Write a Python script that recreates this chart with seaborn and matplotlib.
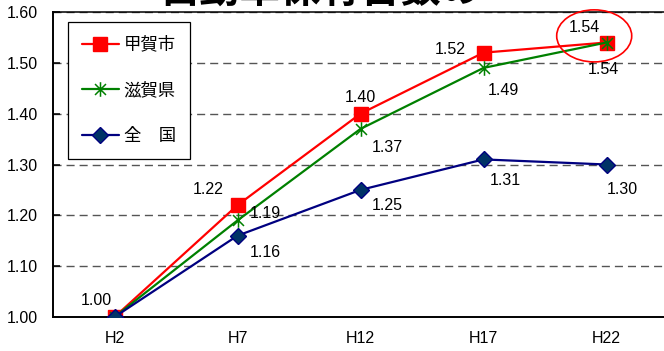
import matplotlib
matplotlib.use("Agg")
import matplotlib.pyplot as plt
from matplotlib.path import Path
from matplotlib.patches import Ellipse
import numpy as np
import seaborn as sns

# ---- data -------------------------------------------------------------
years = ["H2", "H7", "H12", "H17", "H22"]
koka = [1.00, 1.22, 1.40, 1.52, 1.54]      # 甲賀市
shiga = [1.00, 1.19, 1.37, 1.49, 1.54]     # 滋賀県
zenkoku = [1.00, 1.16, 1.25, 1.31, 1.30]   # 全国
series_names = ["甲賀市", "滋賀県", "全　国"]
yticks = [1.00, 1.10, 1.20, 1.30, 1.40, 1.50, 1.60]
title_text = "自動車保有台数の"

# ---- style --------------------------------------------------------------
sns.set_style("white")
plt.rcParams["font.family"] = ["Liberation Sans", "Noto Sans CJK JP", "DejaVu Sans"]
plt.rcParams["text.color"] = "black"
plt.rcParams["axes.labelcolor"] = "black"
plt.rcParams["xtick.color"] = "black"
plt.rcParams["ytick.color"] = "black"

W, H = 664, 351
fig = plt.figure(figsize=(W / 100, H / 100), dpi=100)
# plot area: left spine at x=53px, top 12px, bottom 317px; right edge runs off the canvas
ax = fig.add_axes([53 / W, (H - 317) / H, (668 - 53) / W, (317 - 12) / H])

xpos = np.arange(len(years))

# Excel-style asterisk: an X plus a vertical bar
star = Path(
    [(-0.75, -0.75), (0.75, 0.75), (-0.75, 0.75), (0.75, -0.75), (0, -1), (0, 1)],
    [Path.MOVETO, Path.LINETO, Path.MOVETO, Path.LINETO, Path.MOVETO, Path.LINETO],
)

RED, GREEN, NAVY, NAVY_FILL = "#FF0000", "#008000", "#000080", "#003366"

sns.lineplot(x=xpos, y=koka, ax=ax, color=RED, linewidth=1.6, marker="s",
             markersize=10, markerfacecolor=RED, markeredgecolor=RED,
             markeredgewidth=1, label=series_names[0], zorder=3)
sns.lineplot(x=xpos, y=shiga, ax=ax, color=GREEN, linewidth=1.6, marker=star,
             markersize=10.5, markerfacecolor="none", markeredgecolor=GREEN,
             markeredgewidth=1.1, label=series_names[1], zorder=4)
sns.lineplot(x=xpos, y=zenkoku, ax=ax, color=NAVY, linewidth=1.6, marker="D",
             markersize=8.5, markerfacecolor=NAVY_FILL, markeredgecolor=NAVY,
             markeredgewidth=1, label=series_names[2], zorder=5)

# ---- axes ---------------------------------------------------------------
ax.set_xlim(-0.5, len(years) - 0.5)
ax.set_ylim(yticks[0], yticks[-1])
ax.set_yticks(yticks)
ax.set_yticklabels([f"{v:.2f}" for v in yticks], fontsize=11.5)
ax.set_xticks(xpos)
ax.set_xticklabels(years, fontsize=11.5)
ax.set_xticks(xpos[:-1] + 0.5, minor=True)
ax.tick_params(axis="x", which="major", length=0, pad=10)
ax.tick_params(axis="x", which="minor", direction="in", length=5, width=1.1)
ax.tick_params(axis="y", which="major", direction="in", length=5, width=1.1,
               pad=11, left=True)
ax.set_xlabel("")
ax.set_ylabel("")

for side in ["left", "bottom", "top", "right"]:
    ax.spines[side].set_visible(True)
    ax.spines[side].set_color("black")
    ax.spines[side].set_linewidth(1.4)
ax.spines["top"].set_linewidth(1.1)

ax.yaxis.grid(True, color="#555555", linewidth=1.0, linestyle=(0, (5.8, 3.6)))
ax.xaxis.grid(False)
ax.set_axisbelow(True)

# ---- value labels -------------------------------------------------------
label_font = dict(fontsize=11.5, family=["Liberation Sans", "DejaVu Sans"],
                  ha="center", va="baseline", color="black")
# (dx, dy) offsets in pixels from each point to the centre of its label
koka_off = [(-18, 18), (-29, 17), (0, 18), (-33, 5), (-22, 17)]
shiga_off = [None, (28, 8), (27, -17), (20, -21), (-3, -25)]
zen_off = [None, (28, -15), (27, -14), (22, -20), (16, -23)]
for vals, offs in [(koka, koka_off), (shiga, shiga_off), (zenkoku, zen_off)]:
    for i, (v, off) in enumerate(zip(vals, offs)):
        if off is None:
            continue
        ax.annotate(f"{v:.2f}", xy=(xpos[i], v), xytext=(off[0], off[1] - 6),
                    textcoords="offset pixels", zorder=6, **label_font)

# highlight ring around the latest 甲賀市 value
ax.add_patch(Ellipse((3.9, 1.553), 0.61, 0.1024, fill=False, edgecolor=RED,
                     linewidth=1.2, clip_on=False, zorder=7))

# ---- legend -------------------------------------------------------------
leg = ax.legend(loc="upper left", bbox_to_anchor=(67.7 / W, 1 - 21.7 / H),
                bbox_transform=fig.transFigure, borderaxespad=0,
                prop={"family": ["Noto Sans CJK JP", "DejaVu Sans"], "size": 12.5},
                handlelength=2.13, handletextpad=0.3, labelspacing=1.6,
                borderpad=0.8, frameon=True, fancybox=False, framealpha=1,
                shadow=False, numpoints=1)
leg.get_frame().set_edgecolor("black")
leg.get_frame().set_linewidth(0.9)

# ---- title (runs off the top edge) -------------------------------------
fig.text(320 / W, 1 - 3 / H, title_text, ha="center", va="baseline",
         fontsize=29, fontweight="bold", family=["Noto Sans CJK JP", "DejaVu Sans"])

fig.savefig("out.png", dpi=100)
